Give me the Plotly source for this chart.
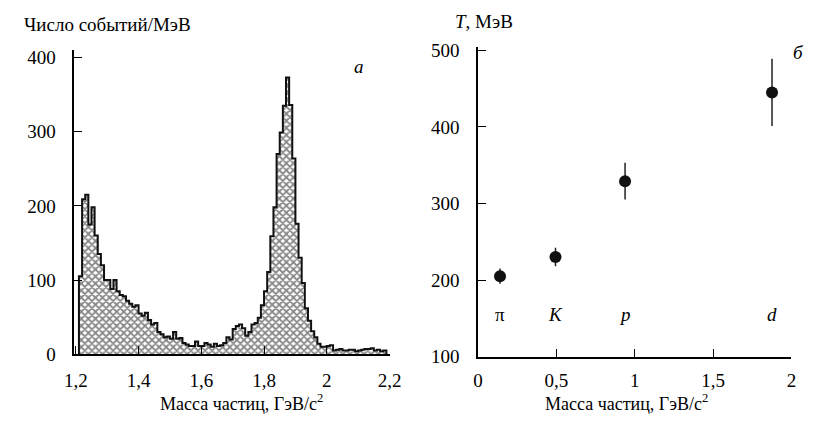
import plotly.graph_objects as go

# ---------------- data ----------------
# left panel: histogram of events per MeV vs particle mass (GeV/c^2)
hist_start = 1.21
hist_width = 0.01
hist_counts = [105, 209, 215, 175, 198, 160, 135, 120, 100, 100,
               88, 100, 85, 80, 78, 72, 68, 64, 66, 55,
               52, 56, 46, 40, 42, 30, 27, 23, 24, 21,
               30, 21, 22, 15, 13, 11, 11, 17, 11, 11,
               15, 13, 10, 14, 11, 12, 15, 23, 20, 34,
               38, 40, 35, 25, 30, 40, 42, 49, 66, 85,
               111, 159, 198, 270, 299, 335, 373, 336, 264, 176,
               130, 96, 62, 45, 31, 23, 14, 10, 10, 11,
               12, 5, 6, 7, 5, 5, 6, 6, 4, 5,
               6, 7, 7, 8, 5, 6, 4, 5]

# right panel: slope temperature vs particle mass
particles = ["π", "K", "p", "d"]
particle_italic = [False, True, True, True]
mass = [0.14, 0.494, 0.938, 1.876]
temp = [205, 230, 329, 445]
temp_err = [10, 12, 24, 44]
label_level = 155

left_xticks = [1.2, 1.4, 1.6, 1.8, 2.0, 2.2]
left_xtext = ["1,2", "1,4", "1,6", "1,8", "2", "2,2"]
left_yticks = [0, 100, 200, 300, 400]
right_xticks = [0, 0.5, 1, 1.5, 2]
right_xtext = ["0", "0,5", "1", "1,5", "2"]
right_yticks = [100, 200, 300, 400, 500]

# ---------------- figure ----------------
W, H = 820, 427
FONT = "Liberation Serif, 'Times New Roman', 'DejaVu Serif', serif"
TICKF = dict(family=FONT, size=19, color="black")


def px_x(p):
    return p / W


def px_y(p):
    return 1 - p / H


centers = [hist_start + hist_width * (i + 0.5) for i in range(len(hist_counts))]
edges = [hist_start + hist_width * i for i in range(len(hist_counts) + 1)]
out_x = [edges[0]] + edges[:-1] + [edges[-1], edges[-1]]
out_y = [0] + hist_counts + [hist_counts[-1], 0]

fig = go.Figure()
fig.add_trace(go.Bar(
    x=centers, y=hist_counts, width=hist_width,
    marker=dict(color="white", line=dict(width=0),
                pattern=dict(shape="x", fgcolor="#111", bgcolor="white",
                             size=5, solidity=0.6)),
    xaxis="x", yaxis="y", showlegend=False, hoverinfo="skip"))
fig.add_trace(go.Scatter(
    x=out_x, y=out_y, mode="lines", line=dict(shape="hv", color="#111", width=2),
    xaxis="x", yaxis="y", showlegend=False, hoverinfo="skip"))

fig.add_trace(go.Scatter(
    x=mass, y=temp, mode="markers",
    marker=dict(size=12, color="#111"),
    error_y=dict(type="data", array=temp_err, color="#222", thickness=1.5, width=0),
    xaxis="x2", yaxis="y2", showlegend=False))

axis_common = dict(showgrid=False, zeroline=False, showline=True, linecolor="black",
                   linewidth=1.5, ticks="inside", ticklen=8, tickwidth=1.3,
                   tickcolor="black", tickfont=TICKF, mirror=False)

fig.update_layout(
    width=W, height=H, margin=dict(l=0, r=0, t=0, b=0),
    paper_bgcolor="white", plot_bgcolor="white", bargap=0,
    xaxis=dict(domain=[px_x(66), px_x(390)], range=[1.195, 2.2],
               tickvals=left_xticks, ticktext=left_xtext, anchor="y",
               ticklabelstandoff=8, **axis_common),
    yaxis=dict(domain=[px_y(362.5), px_y(45)], range=[0, 410],
               tickvals=left_yticks, anchor="x", ticklabelstandoff=13, **axis_common),
    xaxis2=dict(domain=[px_x(481), px_x(803)], range=[0, 2],
                tickvals=right_xticks, ticktext=right_xtext, anchor="y2",
                ticklabelstandoff=6, **axis_common),
    yaxis2=dict(domain=[px_y(365), px_y(42)], range=[100, 504],
                tickvals=right_yticks, anchor="x2", ticklabelstandoff=13, **axis_common),
)

TF = dict(family=FONT, size=19, color="black")
ann = [
    dict(x=px_x(12), y=px_y(18), text="Число событий/МэВ", xanchor="left"),
    dict(x=px_x(455), y=px_y(15), text="<i>T</i>, МэВ", xanchor="left"),
    dict(x=px_x(238), y=px_y(413), text="Масса частиц, ГэВ/c<sup>2</sup>", xanchor="center",
         font=dict(family=FONT, size=18, color="black")),
    dict(x=px_x(633), y=px_y(413), text="Масса частиц, ГэВ/c<sup>2</sup>", xanchor="center",
         font=dict(family=FONT, size=18, color="black")),
    dict(x=px_x(359), y=px_y(62), text="<i>а</i>", xanchor="center"),
    dict(x=px_x(810), y=px_y(47), text="<i>б</i>", xanchor="center"),
]
for a in ann:
    a.setdefault("font", TF)
    fig.add_annotation(xref="paper", yref="paper", yanchor="middle", showarrow=False, **a)

for name, it, m in zip(particles, particle_italic, mass):
    fig.add_annotation(xref="x2", yref="y2", x=m, y=label_level,
                       text=f"<i>{name}</i>" if it else name, showarrow=False,
                       font=TF, xanchor="center", yanchor="middle")

fig.write_html("out.html")
